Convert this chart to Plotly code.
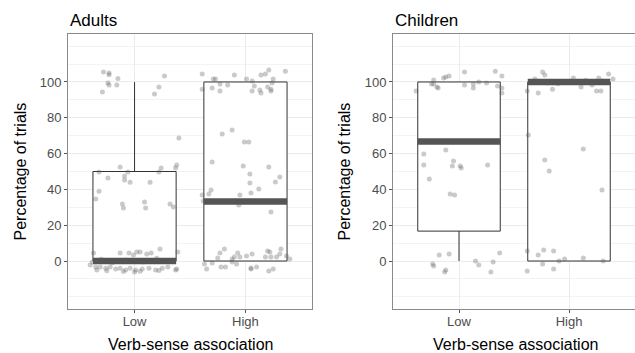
import plotly.graph_objects as go

categories = ["Low", "High"]
y_tickvals = [0, 20, 40, 60, 80, 100]

# Box statistics (percentage of trials)
adults_q1 = [0, 0]
adults_median = [0, 33.3]
adults_q3 = [50, 100]
adults_lower = [0, 0]
adults_upper = [100, 100]

children_q1 = [16.7, 0]
children_median = [66.7, 100]
children_q3 = [100, 100]
children_lower = [0, 0]
children_upper = [100, 100]

# Jittered raw points: horizontal offset from category centre, value
adults_low_dx = [-0.28, -0.23, -0.23, -0.15, -0.24, -0.23, -0.16, -0.29, 0.27, 0.22, 0.18,
                 0.40, -0.13, 0.38, 0.37, 0.24, 0.22, -0.32, -0.06, -0.24, -0.09, -0.09, -0.04, 0.14,
                 -0.32, -0.35, -0.11, -0.10, 0.09, 0.10, 0.32, 0.35,
                 -0.37, -0.13, -0.05, -0.01, 0.02, 0.05, 0.11, 0.15, 0.23, 0.39, -0.38, -0.40,
                 -0.30, -0.20, -0.08, 0.08, 0.20, 0.33,
                 -0.35, -0.31, -0.26, -0.22, -0.17, -0.13, -0.08, -0.04, 0.01, 0.07, 0.13, 0.19,
                 0.25, 0.30, 0.38, -0.34, -0.25, -0.10, 0.00, 0.05, 0.22, 0.37]
adults_low_y = [105.6, 105.0, 104.0, 102.0, 99.4, 98.3, 98.3, 94.4, 103.4, 97.2, 93.3,
                68.7, 52.5, 53.6, 52.0, 52.0, 49.7, 49.7, 49.7, 46.4, 47.5, 45.3, 44.0, 44.0,
                39.0, 34.6, 31.8, 29.6, 33.0, 29.6, 31.8, 30.2,
                4.5, 4.5, 4.5, 3.4, 5.0, 5.0, 3.9, 4.5, 6.7, 5.0, -0.6, -2.2,
                1.0, -1.0, 0.5, -0.5, 1.5, 0.0,
                -3.4, -3.4, -4.0, -3.4, -4.5, -4.0, -5.0, -4.0, -5.0, -4.5, -4.0, -5.0,
                -4.0, -3.4, -4.5, -5.0, -5.5, -5.8, -6.2, -5.7, -5.3, -5.0]

adults_high_dx = [-0.39, -0.27, -0.29, -0.10, 0.01, 0.06, 0.14, 0.18, 0.21, 0.36, 0.25, 0.24,
                  -0.39, -0.30, -0.23, -0.23, -0.16, 0.08, 0.13, 0.14, 0.06, 0.20, 0.23, 0.23,
                  -0.21, -0.12, -0.01, 0.03, -0.30, -0.02, 0.21, 0.04, 0.04, 0.31, 0.27, 0.12,
                  -0.31, -0.33, -0.39, 0.05, -0.05, -0.38, 0.06, -0.06, 0.23,
                  -0.19, -0.23, -0.25, -0.07, -0.10, -0.12, -0.05, 0.01, 0.06, 0.20, 0.22, 0.18,
                  0.23, 0.28, 0.32, 0.31, 0.37, 0.40, -0.37, -0.35, -0.30, -0.22, -0.18, -0.12,
                  -0.08, 0.05, 0.05, 0.10, 0.21, 0.25]
adults_high_y = [104.5, 101.7, 101.7, 103.9, 101.7, 100.6, 103.9, 104.5, 106.7, 106.0, 101.7, 99.4,
                 96.0, 96.6, 95.0, 98.9, 98.3, 97.8, 95.5, 93.9, 95.0, 97.2, 96.0, 95.0,
                 70.9, 73.2, 66.5, 66.5, 55.3, 53.1, 52.5, 48.6, 43.6, 46.9, 44.1, 40.2,
                 39.7, 37.4, 36.9, 38.0, 36.9, 33.5, 33.0, 31.3, 27.4,
                 6.7, 4.5, 1.7, 4.5, 2.2, 1.1, 2.2, 2.8, 3.9, 5.6, 5.0, 2.2,
                 2.2, 2.2, 6.7, 3.9, 2.8, 1.1, -1.7, -4.5, -1.1, -3.4, -3.4, -0.6,
                 -1.7, -3.9, -4.5, -3.4, -5.6, -4.5]

children_low_dx = [0.33, 0.05, 0.39, -0.09, -0.12, -0.14, -0.23, -0.25, -0.23, -0.20, -0.19,
                   -0.39, 0.05, 0.13, 0.13, 0.18, 0.25, 0.35, 0.39, 0.39,
                   -0.32, -0.12, -0.32, -0.05, -0.06, 0.01, 0.02, 0.26, -0.27, -0.08, -0.04,
                   -0.18, -0.09, 0.37, -0.24, -0.23, -0.12, -0.13, 0.15, 0.18, 0.31, 0.29]
children_low_y = [106.0, 105.6, 103.4, 103.4, 102.8, 102.2, 101.1, 98.9, 98.9, 97.2, 96.6,
                  95.0, 98.3, 98.9, 96.6, 100.0, 99.4, 97.8, 96.6, 93.9,
                  59.8, 62.0, 53.6, 55.9, 53.1, 53.1, 52.0, 53.6, 45.8, 37.4, 36.9,
                  3.4, 3.9, 4.5, -1.7, -2.8, -5.0, -6.1, 0.0, -2.2, -0.6, -6.1]

children_high_dx = [-0.24, -0.22, -0.31, 0.36, 0.40, 0.27, 0.04, 0.11, 0.02, 0.21, 0.11,
                    -0.38, -0.28, -0.15, 0.25, 0.29, -0.10, 0.30, 0.15, -0.20,
                    -0.37, 0.13, -0.22, -0.18, 0.30,
                    -0.38, -0.28, -0.23, -0.14, 0.13, -0.04, -0.09, -0.24, -0.14, -0.38, 0.31]
children_high_y = [105.6, 103.9, 101.7, 104.5, 101.7, 102.2, 102.2, 100.0, 100.0, 98.3, 97.2,
                   95.0, 93.9, 96.0, 95.0, 95.0, 99.0, 100.5, 101.0, 99.5,
                   70.4, 62.6, 56.4, 50.3, 39.7,
                   5.6, 3.4, 6.1, 5.6, 1.7, 1.1, 0.0, -1.7, -4.5, -5.6, 0.0]

box_width = 0.75
x_pos = [1, 2]

fig = go.Figure()

BOX_LINE = "#333333"
MEDIAN_COLOR = "#555555"
POINT_COLOR = "rgba(90,90,90,0.32)"


def add_panel(xa, ya, q1, med, q3, lo, hi, pts):
    fig.add_trace(go.Box(
        x=x_pos, q1=q1, median=med, q3=q3, lowerfence=lo, upperfence=hi,
        width=box_width, whiskerwidth=0, fillcolor="white",
        line=dict(color=BOX_LINE, width=1), boxpoints=False,
        xaxis=xa, yaxis=ya, showlegend=False, hoverinfo="skip"))
    for i, m in enumerate(med):
        xc = x_pos[i]
        fig.add_trace(go.Scatter(
            x=[xc - box_width / 2, xc + box_width / 2], y=[m, m], mode="lines",
            line=dict(color=MEDIAN_COLOR, width=6.5), xaxis=xa, yaxis=ya,
            showlegend=False, hoverinfo="skip"))
    for i, (dx, yy) in enumerate(pts):
        fig.add_trace(go.Scatter(
            x=[x_pos[i] + d for d in dx], y=yy, mode="markers",
            marker=dict(color=POINT_COLOR, size=5, line=dict(width=0)),
            xaxis=xa, yaxis=ya, showlegend=False, hoverinfo="skip"))


add_panel("x", "y", adults_q1, adults_median, adults_q3, adults_lower, adults_upper,
          [(adults_low_dx, adults_low_y), (adults_high_dx, adults_high_y)])
add_panel("x2", "y2", children_q1, children_median, children_q3, children_lower, children_upper,
          [(children_low_dx, children_low_y), (children_high_dx, children_high_y)])

W, H = 635, 353
FONT = "Liberation Sans, Arial, sans-serif"
GRID = "#EBEBEB"
MINOR_GRID = "#F3F3F3"
BORDER = "#8a8a8a"

xaxis_common = dict(
    type="linear", range=[0.4, 2.6], tickvals=x_pos, ticktext=categories,
    showgrid=True, gridcolor=GRID, gridwidth=1, zeroline=False,
    showline=True, mirror=True, linecolor=BORDER, linewidth=1,
    ticks="outside", ticklen=3, tickcolor="#555", ticklabelstandoff=-3,
    tickfont=dict(family=FONT, size=13, color="#4D4D4D"), fixedrange=True)
yaxis_common = dict(
    range=[-26.8, 126.8], tickvals=y_tickvals,
    showgrid=True, gridcolor=GRID, gridwidth=1, zeroline=False,
    showline=True, mirror=True, linecolor=BORDER, linewidth=1,
    ticks="outside", ticklen=3, tickcolor="#555",
    tickfont=dict(family=FONT, size=13, color="#4D4D4D"),
    minor=dict(tickvals=[-20, -10, 10, 30, 50, 70, 90, 110, 120], showgrid=True,
               gridcolor=MINOR_GRID, gridwidth=1, ticks=""),
    domain=[44 / H, 319 / H], fixedrange=True)

fig.update_layout(
    width=W, height=H, margin=dict(l=0, r=0, t=0, b=0),
    paper_bgcolor="white", plot_bgcolor="white",
    font=dict(family=FONT),
    xaxis=dict(xaxis_common, domain=[68 / W, 312 / W], anchor="y"),
    yaxis=dict(yaxis_common, anchor="x"),
    xaxis2=dict(xaxis_common, domain=[393 / W, 1.0], anchor="y2"),
    yaxis2=dict(yaxis_common, anchor="x2"),
)

annotations = [
    dict(text="Adults", x=68 / W, y=1 - 20 / H, xanchor="left", yanchor="middle",
         font=dict(size=17, color="black")),
    dict(text="Children", x=393 / W, y=1 - 20 / H, xanchor="left", yanchor="middle",
         font=dict(size=17, color="black")),
    dict(text="Percentage of trials", x=20 / W, y=1 - 171.5 / H, textangle=-90,
         xanchor="center", yanchor="middle", font=dict(size=16, color="black")),
    dict(text="Percentage of trials", x=344 / W, y=1 - 171.5 / H, textangle=-90,
         xanchor="center", yanchor="middle", font=dict(size=16, color="black")),
    dict(text="Verb-sense association", x=190 / W, y=1 - 344 / H,
         xanchor="center", yanchor="middle", font=dict(size=16, color="black")),
    dict(text="Verb-sense association", x=515 / W, y=1 - 344 / H,
         xanchor="center", yanchor="middle", font=dict(size=16, color="black")),
]
for a in annotations:
    a.update(xref="paper", yref="paper", showarrow=False)
fig.update_layout(annotations=annotations)

fig.write_html("out.html")
